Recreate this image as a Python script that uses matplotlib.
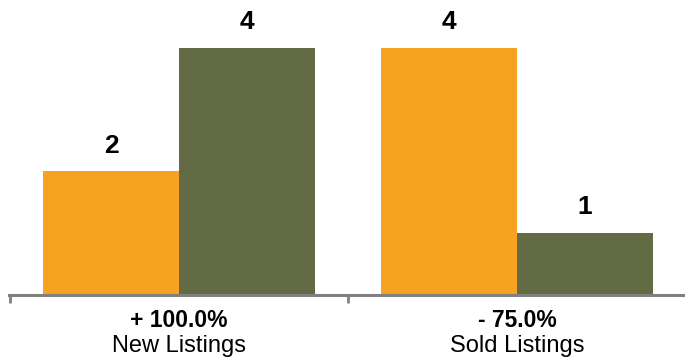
import matplotlib.pyplot as plt
import numpy as np

plt.rcParams['font.family'] = ['Liberation Sans', 'DejaVu Sans']

categories = ['New Listings', 'Sold Listings']
changes = ['+ 100.0%', '- 75.0%']
prev_values = [2, 4]
curr_values = [4, 1]

orange = '#F5A321'
olive = '#636B44'

fig = plt.figure(figsize=(6.85, 3.62), dpi=100)
base = 294.5 / 362
ax = fig.add_axes([9 / 685, 1 - base, 676 / 685, base])

x = np.arange(len(categories))
w = 136 / 338
b1 = ax.bar(x - w / 2, prev_values, w, color=orange)
b2 = ax.bar(x + w / 2, curr_values, w, color=olive)

for bars in (b1, b2):
    for r in bars:
        ax.annotate(str(int(r.get_height())),
                    (r.get_x() + r.get_width() / 2, r.get_height()),
                    xytext=(0, 13.5), textcoords='offset points',
                    ha='center', va='baseline', fontsize=19, fontweight='bold')

ax.set_xlim(-0.503, 1.497)
ax.set_ylim(0, 294.5 / 61.6)

for s in ['top', 'right', 'left']:
    ax.spines[s].set_visible(False)
ax.spines['bottom'].set_color('#808080')
ax.spines['bottom'].set_linewidth(2.2)
ax.set_yticks([])
ax.set_xticks([-0.5, 0.5])
ax.set_xticklabels([])
ax.tick_params(axis='x', length=6, width=2, color='#808080')

for i in range(len(categories)):
    ax.annotate(changes[i], (x[i], 0), xytext=(0, -23.2), textcoords='offset points',
                ha='center', va='baseline', fontsize=16.5, fontweight='bold')
    ax.annotate(categories[i], (x[i], 0), xytext=(0, -41.2), textcoords='offset points',
                ha='center', va='baseline', fontsize=17)

fig.savefig('out.png', dpi=100)
